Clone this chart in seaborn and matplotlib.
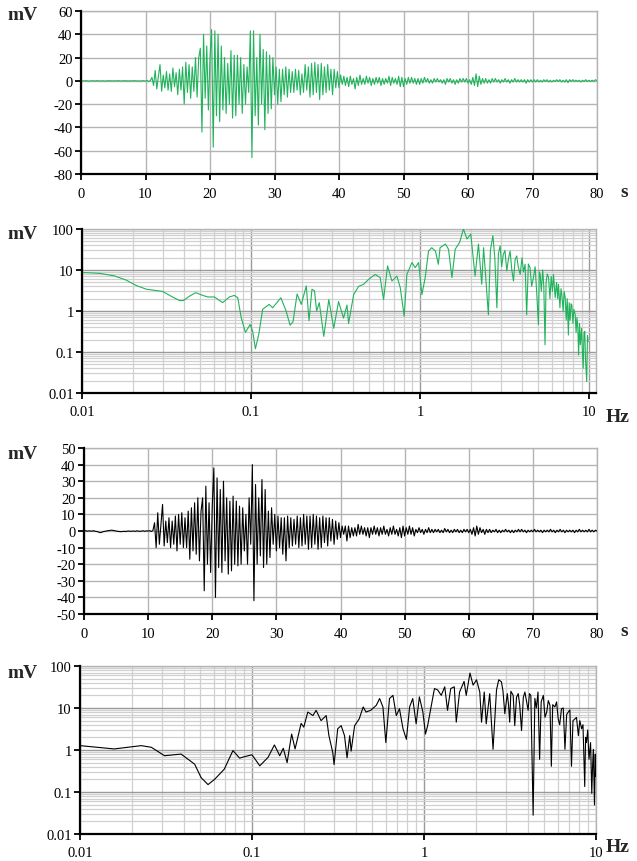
import numpy as np
import pandas as pd
import matplotlib
matplotlib.use("Agg")
import matplotlib.pyplot as plt
import seaborn as sns
from matplotlib.ticker import FixedLocator, FuncFormatter, NullFormatter

# ---- time records, one sample every 0.25 s from 0 to 80 s ----
dt = 0.25
t_s = np.arange(0, 80 + dt / 2, dt)

green_mv = [
    # 0 - 10.75 s
    0, 0.1, -0.1, 0.2, 0, -0.2, 0.1, 0,
    0.1, -0.1, 0.2, 0, -0.1, 0.1, 0, -0.2,
    0.1, 0, 0.2, -0.1, 0, 0.1, -0.1, 0.2,
    0, -0.1, 0.1, 0, 0.2, -0.2, 0, 0.1,
    -0.1, 0.2, 0, -0.1, 0.1, -0.3, 0.2, 0,
    -0.1, 0.3, -0.5, 0.2,
    # 11 - 39.75 s
    3, -4, 9, -7,
    4, 14, -9, 5,
    -6, 8, -8, 6,
    -9, 11, -5, 7,
    -12, 10, -8, 12,
    -20, 16, -10, 14,
    -15, 12, -9, 20,
    -14, 20, 28, -44,
    40, -15, 30, -25,
    20, 44, -57, 43,
    -30, 40, -35, 30,
    -25, 20, -28, 15,
    -20, 26, -32, 22,
    -30, 22, -20, 20,
    -28, 14, -20, 12,
    -10, 43, -66, 43,
    -30, 20, -38, 40,
    -20, 27, -42, 25,
    -28, 22, -24, 20,
    -12, 12, -20, 10,
    -18, 10, -12, 12,
    -14, 10, -10, 8,
    -10, 10, -8, 9,
    -12, 6, -10, 14,
    -8, 12, -14, 15,
    -12, 16, -10, 14,
    -16, 15, -12, 12,
    -10, 14, -8, 10,
    -12, 10, -6, 8,
    # 40 - 80 s
    -6, 5, -3, 4,
    -4, 3, -5, 4,
    -3, 2, -7, 3,
    -4, 5, -3, 2,
    -3, 4, -2, 3,
    -4, 2, -3, 3,
    -2, 3, -4, 2,
    -3, 2, -2, 4,
    -4, 3, -2, 2,
    -3, 4, -5, 3,
    -5, 2, -3, 3,
    -2, 3, -2, 2,
    -3, 2, -3, 2,
    -2, 3, -1, 2,
    -2, 1, -2, 2,
    -1, 2, -1, 1,
    -2, 1, -3, 2,
    -1, 2, -2, 1,
    -3, 1, -2, 2,
    -1, 2, -1, 2,
    -2, 1, -3, 3,
    -4, 6, -5, 4,
    -3, 2, -2, 2,
    -2, 1, -2, 2,
    -1, 2, -1, 1,
    -2, 1, -1, 2,
    -1, 1, -2, 1,
    -1, 2, -1, 1,
    -1, 1, -1, 1,
    -2, 1, -1, 1,
    -1, 1, -1, 1,
    -1, 0.5, -1, 1,
    -0.5, 1, -1, 0.5,
    -1, 0.5, -0.5, 1,
    -0.5, 1, -1, 0.5,
    -1, 1, -1.5, 1,
    -0.5, 1, -0.5, 0.5,
    -0.5, 0.5, -1, 0.5,
    -0.5, 1, -0.5, 0.5,
    -0.5, 0.5, -0.5, 1,
    0,
]

black_mv = [
    # 0 - 10.75 s
    0, 0.2, -0.1, 0.1, 0, -0.1, 0.2, -0.2,
    -0.3, -0.6, -1.0, -0.8, -0.4, -0.2, 0, 0.2,
    0.3, 0.5, 0.4, 0.2, 0, -0.2, -0.3, -0.4,
    -0.3, -0.2, -0.3, -0.1, 0, -0.2, -0.1, 0,
    -0.2, 0.1, -0.1, -0.2, 0, 0.1, -0.2, 0.1,
    0, 0.2, -0.3, 0.3,
    # 11 - 39.75 s
    5, -10, 11, -8,
    4, 16, -9, 6,
    -7, 8, -10, 6,
    -8, 9, -12, 10,
    -8, 11, -10, 8,
    -10, 12, -17, 14,
    -12, 17, -14, 20,
    -18, 12, 20, -36,
    27, -20, 17, -25,
    15, 38, -40, 32,
    -22, 25, -25, 30,
    -18, 20, -26, 18,
    -24, 21, -20, 18,
    -21, 15, -20, 14,
    -12, 10, -20, 20,
    -8, 40, -42, 28,
    -20, 20, -15, 31,
    -22, 25, -20, 12,
    -16, 14, -8, 10,
    -12, 9, -10, 8,
    -14, 8, -18, 9,
    -10, 8, -9, 7,
    -8, 9, -10, 8,
    -9, 10, -8, 9,
    -11, 9, -10, 10,
    -8, 9, -11, 8,
    -10, 9, -7, 8,
    -9, 8, -6, 7,
    -8, 6, -5, 5,
    # 40 - 80 s
    -4, 3, -2, 3,
    -6, 3, -4, 2,
    -3, 2, -3, 4,
    -2, 3, -2, 2,
    -3, 2, -4, 2,
    -2, 3, -2, 2,
    -3, 2, -2, 3,
    -2, 1, -3, 2,
    -2, 3, -2, 1,
    -3, 2, -4, 3,
    -3, 2, -2, 3,
    -2, 2, -3, 1,
    -1, 2, -1, 1,
    -2, 1, -1, 2,
    -1, 1, -1, 1,
    -0.5, 1, -1, 0.5,
    -1, 1.5, -0.5, 1,
    -1, 0.5, -1, 1,
    -0.5, 1, -1, 0.5,
    -1, 1, -0.5, 1,
    -1, 1, -2, 2,
    -3, 3, -2, 2,
    -1, 1, -2, 1,
    -1, 1, -1, 0.5,
    -0.5, 1, -1, 0.5,
    -1, 0.5, -0.5, 1,
    -0.5, 0.5, -1, 0.5,
    -1, 0.5, -0.5, 1,
    -0.5, 1, -0.5, 0.5,
    -1, 0.5, -0.5, 0.5,
    -0.5, 1, -0.5, 0.5,
    -0.5, 0.5, -1, 0.5,
    -0.5, 0.5, -0.5, 1,
    -0.5, 0.5, -1, 0.5,
    -0.5, 1, -0.5, 0.5,
    -1, 0.5, -0.5, 0.5,
    -0.5, 0.5, -1, 0.5,
    -0.5, 1, -0.5, 0.5,
    -0.5, 0.5, -0.5, 1,
    -0.5, 0.5, -0.5, 0.5,
    0,
]

# ---- amplitude spectra ----
green_hz = [
    0.01, 0.0127, 0.0155, 0.0182, 0.0209, 0.024, 0.03, 0.0336, 0.0377, 0.0398,
    0.0432, 0.047, 0.0518, 0.0554, 0.0607, 0.0679, 0.0744, 0.0797, 0.0834, 0.0873,
    0.0926, 0.0986, 0.102, 0.106, 0.111, 0.117, 0.128, 0.134, 0.15, 0.161,
    0.17, 0.177, 0.187, 0.198, 0.212, 0.22, 0.229, 0.237, 0.244, 0.253,
    0.269, 0.288, 0.308, 0.329, 0.352, 0.369, 0.377, 0.404, 0.432, 0.463,
    0.495, 0.542, 0.58, 0.607, 0.641, 0.68, 0.728, 0.762, 0.804, 0.834,
    0.893, 0.934, 0.978, 1.023, 1.07, 1.12, 1.17, 1.23, 1.28, 1.31,
    1.41, 1.47, 1.54, 1.61, 1.71, 1.8, 1.89, 1.99, 2.11, 2.21,
    2.31, 2.37, 2.53, 2.6, 2.69, 2.76, 2.84, 2.9, 2.97, 3.03,
    3.1, 3.17, 3.25, 3.32, 3.4, 3.48, 3.56, 3.64, 3.72, 3.8,
    3.9, 4.0, 4.08, 4.17, 4.26, 4.36, 4.46, 4.56, 4.67, 4.78,
    4.88, 5.0, 5.06, 5.12, 5.2, 5.3, 5.38, 5.47, 5.55, 5.64,
    5.74, 5.85, 5.95, 6.05, 6.14, 6.21, 6.28, 6.4, 6.5, 6.57,
    6.7, 6.8, 6.88, 7.0, 7.1, 7.2, 7.3, 7.4, 7.52, 7.6,
    7.7, 7.8, 7.88, 8.0, 8.1, 8.25, 8.35, 8.45, 8.55, 8.64,
    8.75, 8.85, 9.0, 9.1, 9.2, 9.3, 9.4, 9.5, 9.65, 9.75,
    9.85,
]
green_amp = [
    8.7, 8.3, 7.2, 5.7, 4.2, 3.4, 3.0, 2.3, 1.8, 1.8,
    2.3, 2.8, 2.4, 2.2, 2.2, 1.6, 2.2, 2.4, 2.1, 0.7,
    0.3, 0.47, 0.33, 0.12, 0.27, 1.1, 1.45, 1.2, 2.1, 1.0,
    0.45, 0.55, 2.6, 1.45, 4.1, 0.58, 3.4, 3.1, 1.0, 1.6,
    0.24, 1.9, 0.38, 1.7, 0.67, 1.4, 0.5, 2.5, 4.0, 4.5,
    5.9, 7.8, 6.5, 1.9, 12.6, 5.4, 7.1, 3.7, 0.74, 7.8,
    15.2, 11.4, 15.2, 2.5, 6.5, 29, 35, 29, 13.8, 35,
    43, 32, 6.5, 32, 47, 100, 57, 75, 7.1, 43,
    4.5, 35, 0.81, 30, 69, 20, 1.2, 25, 39, 12,
    24, 30, 9.5, 18, 29, 10, 5.4, 18, 22, 12,
    7.8, 20, 9, 13.8, 0.81, 14, 11.4, 4, 6.5, 12,
    3, 0.46, 9, 7.8, 3, 10, 4, 0.15, 5, 8,
    6.5, 2, 7, 3, 7.8, 4, 2.1, 5, 2, 4.5,
    1.2, 3.5, 2.5, 1, 3, 2.1, 0.6, 2, 0.26, 1.6,
    0.6, 1.5, 1.4, 0.5, 1.1, 0.81, 0.3, 0.7, 0.4, 0.085,
    0.5, 0.15, 0.38, 0.1, 0.04, 0.3, 0.32, 0.06, 0.019, 0.25,
    0.18,
]

black_hz = [
    0.01, 0.0158, 0.0227, 0.026, 0.031, 0.0387, 0.0464, 0.0506, 0.0555, 0.0606,
    0.069, 0.0775, 0.0847, 0.09, 0.1, 0.111, 0.124, 0.135, 0.145, 0.152,
    0.16, 0.17, 0.178, 0.193, 0.2, 0.211, 0.226, 0.236, 0.252, 0.27,
    0.28, 0.295, 0.3, 0.315, 0.33, 0.345, 0.357, 0.37, 0.377, 0.395,
    0.42, 0.443, 0.46, 0.49, 0.528, 0.552, 0.577, 0.6, 0.63, 0.66,
    0.69, 0.72, 0.755, 0.79, 0.825, 0.86, 0.9, 0.94, 0.985, 1.02,
    1.05, 1.1, 1.15, 1.2, 1.26, 1.32, 1.37, 1.43, 1.5, 1.54,
    1.61, 1.71, 1.76, 1.85, 1.93, 2.02, 2.11, 2.16, 2.24, 2.3,
    2.41, 2.52, 2.64, 2.72, 2.82, 2.88, 2.95, 3.05, 3.1, 3.15,
    3.2, 3.3, 3.37, 3.45, 3.53, 3.6, 3.69, 3.78, 3.86, 3.95,
    4.03, 4.1, 4.18, 4.31, 4.41, 4.5, 4.6, 4.7, 4.8, 4.94,
    5.05, 5.17, 5.28, 5.4, 5.5, 5.6, 5.77, 5.9, 6.03, 6.15,
    6.3, 6.45, 6.6, 6.75, 6.9, 7.05, 7.2, 7.35, 7.55, 7.7,
    7.9, 8.05, 8.25, 8.4, 8.6, 8.7, 8.8, 8.95, 9.1, 9.3,
    9.45, 9.55, 9.65, 9.8, 9.9, 9.98,
]
black_amp = [
    1.27, 1.06, 1.27, 1.16, 0.73, 0.8, 0.46, 0.22, 0.15, 0.2,
    0.35, 0.97, 0.64, 0.69, 0.77, 0.42, 0.67, 1.32, 0.73, 1.1,
    0.5, 2.4, 1.06, 4.3, 3.5, 8.0, 6.6, 8.8, 5.0, 6.6,
    2.2, 0.86, 0.45, 3.2, 3.8, 2.2, 0.65, 2.2, 0.94, 3.8,
    5.5, 10.6, 8.0, 8.8, 11.6, 16.8, 10.6, 1.5, 16.8, 20,
    6.6, 9.6, 3.2, 1.8, 10.6, 16.8, 4.2, 18.4, 8.0, 2.4,
    3.8, 10.6, 29, 27, 20, 32, 8.8, 29, 32, 4.6,
    24, 43, 20, 68, 35, 47, 24, 4.6, 24, 4.2,
    22, 1.04, 27, 47, 42, 25, 7.3, 22, 12, 4.6,
    25, 20, 3.8, 18, 22, 12, 2.9, 18, 24, 14,
    8.8, 22, 20, 0.028, 17, 10, 24, 0.6, 14, 20,
    6, 8.0, 15, 11.6, 0.41, 12, 10.6, 14, 5.5, 4,
    9.6, 10, 1.04, 7, 8.0, 9, 0.41, 5, 5.5, 6,
    2.2, 5, 3.2, 4, 0.135, 2, 1.5, 3, 0.6, 1.5,
    0.093, 0.4, 1.04, 0.049, 0.8, 0.235,
]

time_ticks = list(range(0, 81, 10))
log_ticks = [0.01, 0.1, 1, 10, 100]

sns.set_theme(style="whitegrid")
plt.rcParams['font.family'] = ['Liberation Serif', 'DejaVu Serif']
plt.rcParams['axes.unicode_minus'] = False

GREEN = '#21b35c'
GRID = '#b4b4b4'
TICK_FS = 10.5
LABEL_FS = 14


def style_axes(ax):
    ax.set_facecolor('white')
    for side in ['left', 'bottom']:
        ax.spines[side].set_color('black')
        ax.spines[side].set_linewidth(1.6)
        ax.spines[side].set_zorder(5)
    for side in ['top', 'right']:
        ax.spines[side].set_color(GRID)
        ax.spines[side].set_linewidth(1.0)
    ax.tick_params(axis='both', which='major', direction='out', length=4, width=1.3,
                   color='black', labelsize=TICK_FS, labelcolor='black', pad=2,
                   left=True, bottom=True)
    ax.tick_params(axis='x', which='major', pad=5)
    ax.tick_params(axis='both', which='minor', length=0)
    ax.set_xlabel('')
    ax.set_ylabel('')


def time_panel(ax, values, color, ylim, ystep):
    df = pd.DataFrame({'t': t_s, 'mv': values})
    sns.lineplot(data=df, x='t', y='mv', ax=ax, color=color, lw=0.8,
                 estimator=None, sort=False, zorder=3)
    ax.set_xlim(0, 80)
    ax.set_ylim(*ylim)
    ax.set_xticks(time_ticks)
    ax.set_yticks(list(range(ylim[0], ylim[1] + 1, ystep)))
    ax.grid(True, which='major', color=GRID, lw=1.0)
    style_axes(ax)


def spectrum_panel(ax, hz, amp, color, xmax):
    ax.set_xscale('log')
    ax.set_yscale('log')
    df = pd.DataFrame({'hz': hz, 'amp': amp})
    sns.lineplot(data=df, x='hz', y='amp', ax=ax, color=color, lw=0.8,
                 estimator=None, sort=False, zorder=3)
    ax.set_xlim(0.01, xmax)
    ax.set_ylim(0.01, 100)
    fmt = FuncFormatter(lambda v, _: f'{v:g}')
    ax.xaxis.set_major_locator(FixedLocator([v for v in log_ticks if v <= xmax]))
    ax.yaxis.set_major_locator(FixedLocator(log_ticks))
    ax.xaxis.set_major_formatter(fmt)
    ax.yaxis.set_major_formatter(fmt)
    ax.xaxis.set_minor_formatter(NullFormatter())
    ax.yaxis.set_minor_formatter(NullFormatter())
    ax.grid(True, which='major', color='#9a9a9a', lw=1.0)
    ax.grid(True, which='minor', color='#d0d0d0', lw=0.9)
    style_axes(ax)


fig = plt.figure(figsize=(6.37, 8.62), dpi=100)
W, H = 637, 862


def add_axes_px(left, top, right, bottom):
    return fig.add_axes([left / W, 1 - bottom / H, (right - left) / W, (bottom - top) / H])


ax1 = add_axes_px(81, 12, 597, 175)
time_panel(ax1, green_mv, GREEN, (-80, 60), 20)

ax2 = add_axes_px(82, 230, 596, 394)
spectrum_panel(ax2, green_hz, green_amp, GREEN, 10.95)

ax3 = add_axes_px(84, 449, 597, 615)
time_panel(ax3, black_mv, 'black', (-50, 50), 10)

ax4 = add_axes_px(80, 667, 596, 835)
spectrum_panel(ax4, black_hz, black_amp, 'black', 10)

# unit labels
for y in [15.5, 234.5, 454.5, 674]:
    fig.text(7 / W, 1 - y / H, 'mV', fontsize=14, fontweight='bold', va='center', ha='left')
for y in [192.5, 631]:
    fig.text(624 / W, 1 - y / H, 's', fontsize=LABEL_FS, fontweight='bold', va='center', ha='center')
for y in [417, 848]:
    fig.text(618 / W, 1 - y / H, 'Hz', fontsize=LABEL_FS, fontweight='bold', va='center', ha='center')

fig.savefig('out.png', dpi=100, facecolor='white')
